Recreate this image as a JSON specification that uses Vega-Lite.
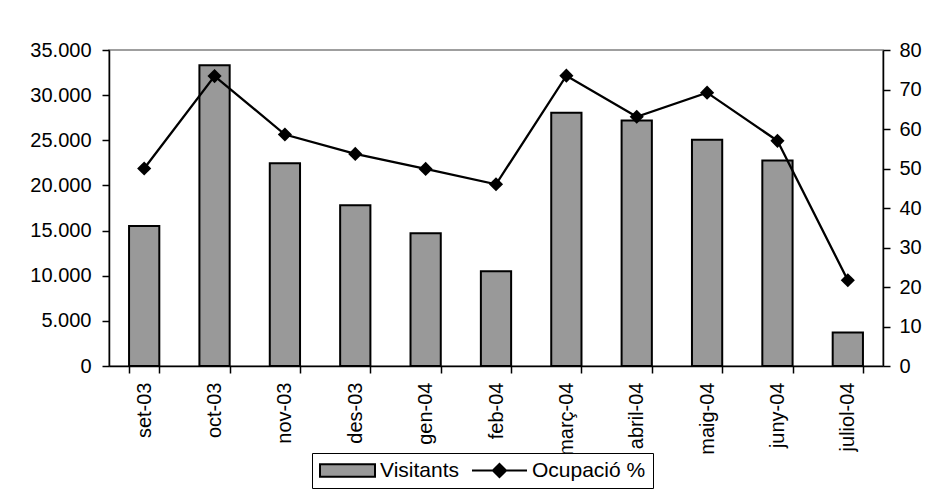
{
  "$schema": "https://vega.github.io/schema/vega-lite/v6.json",
  "width": 774,
  "height": 316,
  "autosize": {"type": "none"},
  "padding": {"left": 109, "top": 50, "right": 52, "bottom": 132},
  "background": "white",
  "config": {
    "font": "Liberation Sans",
    "view": {"stroke": "#808080", "strokeWidth": 1.5},
    "locale": {"number": {"decimal": ",", "thousands": ".", "grouping": [3], "currency": ["", " €"]}},
    "axis": {
      "labelFont": "Liberation Sans",
      "labelFontSize": 20,
      "labelColor": "#000000",
      "domainColor": "#000000",
      "domainWidth": 1.5,
      "tickColor": "#000000",
      "tickWidth": 1.5,
      "tickSize": 7,
      "grid": false,
      "title": null
    }
  },
  "data": {
    "values": [
      {"mes": "set-03", "visitants": 15500, "ocupacio": 50.0},
      {"mes": "oct-03", "visitants": 33300, "ocupacio": 73.4},
      {"mes": "nov-03", "visitants": 22450, "ocupacio": 58.6},
      {"mes": "des-03", "visitants": 17800, "ocupacio": 53.7},
      {"mes": "gen-04", "visitants": 14700, "ocupacio": 49.9},
      {"mes": "feb-04", "visitants": 10500, "ocupacio": 46.0},
      {"mes": "març-04", "visitants": 28050, "ocupacio": 73.5},
      {"mes": "abril-04", "visitants": 27200, "ocupacio": 63.1},
      {"mes": "maig-04", "visitants": 25050, "ocupacio": 69.2},
      {"mes": "juny-04", "visitants": 22750, "ocupacio": 57.0},
      {"mes": "juliol-04", "visitants": 3700, "ocupacio": 21.7}
    ]
  },
  "encoding": {
    "x": {
      "field": "mes",
      "type": "nominal",
      "sort": null,
      "scale": {"paddingInner": 0.57, "paddingOuter": 0.285},
      "axis": {
        "labelAngle": -90,
        "labelPadding": 9,
        "tickBand": "extent",
        "encode": {"ticks": {"update": {"y": {"value": -6}}}}
      }
    }
  },
  "layer": [
    {
      "mark": {"type": "bar", "stroke": "#000000", "strokeWidth": 2},
      "encoding": {
        "y": {
          "field": "visitants",
          "type": "quantitative",
          "scale": {"domain": [0, 35000], "nice": false},
          "axis": {
            "orient": "left",
            "values": [0, 5000, 10000, 15000, 20000, 25000, 30000, 35000],
            "format": ",d",
            "labelPadding": 11,
            "encode": {"ticks": {"update": {"x": {"value": 6}}}}
          }
        },
        "color": {
          "datum": "Visitants",
          "scale": {"domain": ["Visitants", "Ocupació %"], "range": ["#999999", "#000000"]},
          "legend": {
            "orient": "none",
            "legendX": 203,
            "legendY": 403,
            "direction": "horizontal",
            "title": null,
            "strokeColor": "#000000",
            "fillColor": "#ffffff",
            "padding": 7,
            "labelFontSize": 21,
            "labelFont": "Liberation Sans",
            "labelColor": "#000000",
            "labelOffset": 4,
            "columnPadding": 12,
            "symbolSize": 3025,
            "symbolStrokeColor": "#000000",
            "symbolStrokeWidth": 2,
            "symbolOpacity": 1,
            "clipHeight": 21,
            "encoding": {
              "symbols": {
                "shape": {"condition": {"test": "datum.value === 'Visitants'", "value": "M-1,-0.23H1V0.23H-1Z"}, "value": "M-1,0H1M0,-0.24L0.24,0L0,0.24L-0.24,0Z"},
                "stroke": {"value": "#000000"},
                "strokeWidth": {"value": 2},
                "strokeOpacity": {"value": 1},
                "opacity": {"value": 1},
                "fillOpacity": {"value": 1}
              }
            }
          }
        }
      }
    },
    {
      "mark": {"type": "line", "color": "#000000", "strokeWidth": 2.3, "point": {"shape": "diamond", "size": 200, "filled": true, "fill": "#000000", "opacity": 1}},
      "encoding": {
        "y": {
          "field": "ocupacio",
          "type": "quantitative",
          "scale": {"domain": [0, 80], "nice": false},
          "axis": {
            "orient": "right",
            "values": [0, 10, 20, 30, 40, 50, 60, 70, 80],
            "labelPadding": 9,
            "encode": {"ticks": {"update": {"x": {"value": -6}}}}
          }
        }
      }
    }
  ],
  "resolve": {"scale": {"y": "independent"}}
}
